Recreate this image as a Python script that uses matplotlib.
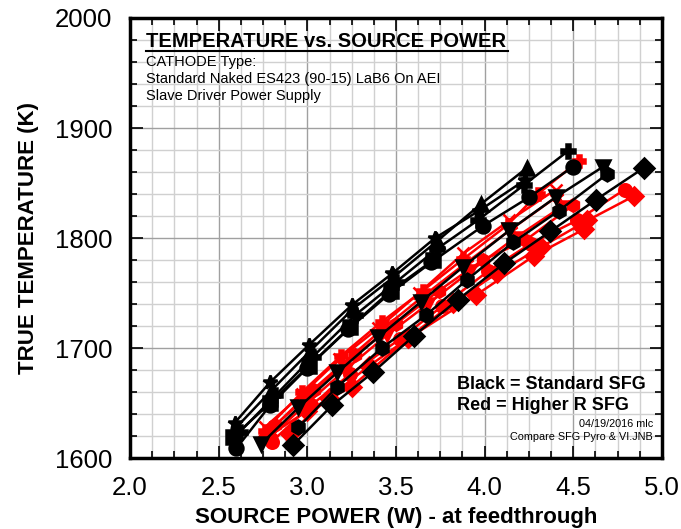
import numpy as np
import matplotlib.pyplot as plt
from matplotlib.ticker import MultipleLocator

plt.rcParams['font.family'] = ['Liberation Sans', 'DejaVu Sans']

# Black = Standard SFG (marker, power W, temperature K)
black_series = [
    ('^', [2.60, 2.80, 3.02, 3.26, 3.49, 3.73, 3.98, 4.24],
          [1628, 1662, 1698, 1736, 1765, 1797, 1831, 1864]),
    ('*', [2.59, 2.79, 3.01, 3.25, 3.48, 3.72, 3.97, 4.23],
          [1632, 1669, 1703, 1739, 1768, 1800, 1825, 1853]),
    ('P', [2.62, 2.82, 3.03, 3.27, 3.50, 3.73, 3.96, 4.22, 4.47],
          [1624, 1657, 1692, 1730, 1760, 1790, 1816, 1848, 1879]),
    ('s', [2.58, 2.79, 3.01, 3.24, 3.47, 3.71],
          [1619, 1650, 1684, 1719, 1752, 1780]),
    ('o', [2.60, 2.79, 3.00, 3.23, 3.46, 3.70, 3.99, 4.25, 4.50],
          [1609, 1648, 1682, 1717, 1749, 1778, 1811, 1837, 1865]),
    ('v', [2.74, 2.95, 3.17, 3.40, 3.64, 3.88, 4.14, 4.40, 4.67],
          [1613, 1646, 1678, 1710, 1742, 1774, 1807, 1837, 1865]),
    ('h', [2.95, 3.17, 3.42, 3.67, 3.90, 4.16, 4.42, 4.69],
          [1628, 1665, 1700, 1730, 1762, 1796, 1825, 1858]),
    ('D', [2.92, 3.14, 3.37, 3.60, 3.85, 4.11, 4.37, 4.63, 4.90],
          [1612, 1648, 1678, 1711, 1744, 1777, 1806, 1835, 1864]),
]

# Red = Higher R SFG
red_series = [
    ('P', [2.76, 2.97, 3.19, 3.42, 3.65, 3.88, 4.13, 4.30, 4.53],
          [1625, 1660, 1693, 1724, 1752, 1781, 1812, 1840, 1870]),
    ('x', [2.76, 2.97, 3.18, 3.40, 3.63, 3.88, 4.14, 4.40],
          [1628, 1658, 1690, 1718, 1750, 1786, 1816, 1844]),
    ('*', [2.77, 2.98, 3.20, 3.43, 3.66, 3.90, 4.15, 4.41],
          [1622, 1655, 1686, 1718, 1748, 1778, 1808, 1838]),
    ('h', [2.82, 3.04, 3.27, 3.50, 3.74, 3.99, 4.23, 4.50],
          [1630, 1662, 1694, 1722, 1752, 1780, 1798, 1830]),
    ('o', [2.80, 3.02, 3.24, 3.52, 3.76, 4.02, 4.26, 4.52, 4.79],
          [1615, 1648, 1676, 1708, 1738, 1770, 1795, 1816, 1844]),
    ('v', [2.78, 3.00, 3.22, 3.45, 3.68, 3.92, 4.17, 4.43],
          [1618, 1650, 1681, 1712, 1740, 1770, 1800, 1828]),
    ('D', [2.90, 3.12, 3.35, 3.57, 3.82, 4.07, 4.32, 4.58, 4.84],
          [1622, 1655, 1684, 1709, 1741, 1768, 1792, 1816, 1838]),
    ('D', [2.78, 3.00, 3.25, 3.57, 3.95, 4.28, 4.56],
          [1620, 1643, 1665, 1709, 1748, 1784, 1808]),
]

fig = plt.figure(figsize=(6.81, 5.29), dpi=100)
ax = fig.add_axes([0.191, 0.134, 0.781, 0.832])

for marker, xs, ys in red_series:
    ax.plot(xs, ys, color='red', lw=1.8, marker=marker, ms=9, mew=1.8, zorder=3)
for marker, xs, ys in black_series:
    ax.plot(xs, ys, color='black', lw=1.8, marker=marker, ms=10, mew=1.8, zorder=4)

ax.set_xlim(2.0, 5.0)
ax.set_ylim(1600, 2000)
ax.xaxis.set_major_locator(MultipleLocator(0.5))
ax.xaxis.set_minor_locator(MultipleLocator(0.125))
ax.yaxis.set_major_locator(MultipleLocator(100))
ax.yaxis.set_minor_locator(MultipleLocator(20))
ax.xaxis.set_major_formatter(lambda v, p: f'{v:.1f}')

ax.grid(which='minor', color='#d0d0d0', lw=1.0, zorder=0)
ax.grid(which='major', color='#a0a0a0', lw=1.0, zorder=0)
ax.set_axisbelow(True)

ax.tick_params(which='both', direction='in', top=True, right=True, width=1.2)
ax.tick_params(which='major', length=9, labelsize=18.5, pad=13)
ax.tick_params(which='minor', length=5)
for sp in ax.spines.values():
    sp.set_linewidth(2.5)

ax.set_xlabel('SOURCE POWER (W) - at feedthrough', fontsize=16, fontweight='bold', labelpad=5)
ax.set_ylabel('TRUE TEMPERATURE (K)', fontsize=16, fontweight='bold', labelpad=11)

ax.text(0.03, 0.935, 'TEMPERATURE vs. SOURCE POWER', transform=ax.transAxes,
        fontsize=14.5, fontweight='bold', va='baseline', ha='left')
ax.plot([0.03, 0.71], [0.925, 0.925], transform=ax.transAxes, color='black', lw=1.5)
for txt, yy in [('CATHODE Type:', 0.891),
                ('Standard Naked ES423 (90-15) LaB6 On AEI', 0.852),
                ('Slave Driver Power Supply', 0.813)]:
    ax.text(0.03, yy, txt, transform=ax.transAxes, fontsize=10.5, va='baseline', ha='left')

ax.text(0.614, 0.157, 'Black = Standard SFG', transform=ax.transAxes,
        fontsize=13, fontweight='bold', va='baseline', ha='left')
ax.text(0.614, 0.109, 'Red = Higher R SFG', transform=ax.transAxes,
        fontsize=13, fontweight='bold', va='baseline', ha='left')
ax.text(0.983, 0.070, '04/19/2016 mlc', transform=ax.transAxes,
        fontsize=7.8, va='baseline', ha='right')
ax.text(0.983, 0.041, 'Compare SFG Pyro & VI.JNB', transform=ax.transAxes,
        fontsize=7.8, va='baseline', ha='right')

fig.savefig('out.png', dpi=100)
